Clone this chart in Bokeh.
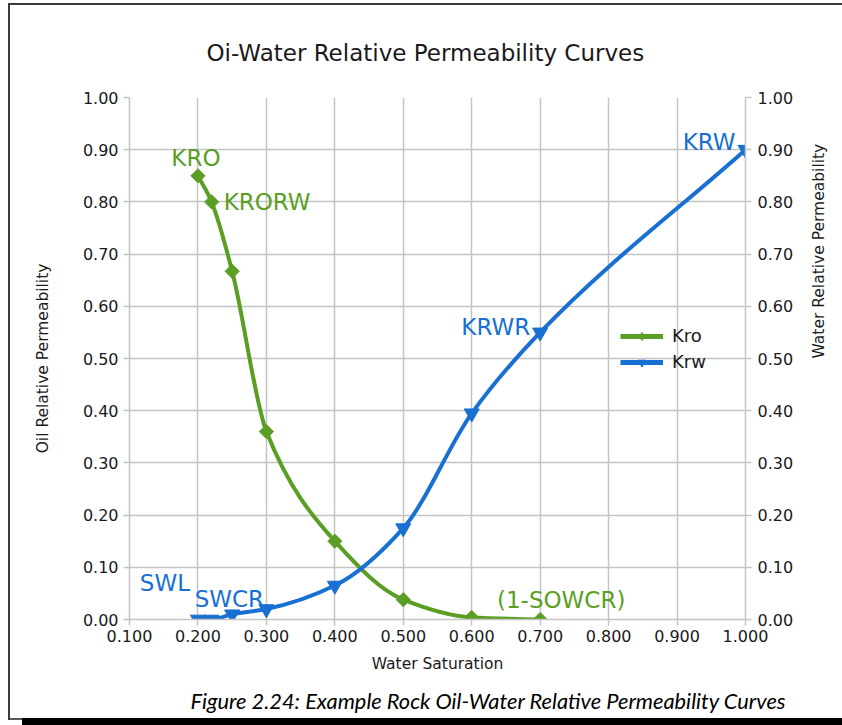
import numpy as np
from bokeh.plotting import figure
from bokeh.models import (Range1d, LinearAxis, FixedTicker, PrintfTickFormatter, Label,
                          Legend, LegendItem, ColumnDataSource, Title)
from bokeh.embed import file_html
from bokeh.resources import INLINE

# ---- data -------------------------------------------------------------
sw_oil = [0.20, 0.22, 0.25, 0.30, 0.40, 0.50, 0.60, 0.70]
kro = [0.85, 0.80, 0.667, 0.36, 0.15, 0.038, 0.004, 0.0]

sw_water = [0.20, 0.22, 0.25, 0.30, 0.40, 0.50, 0.60, 0.70, 1.00]
krw = [0.0, 0.0, 0.01, 0.02, 0.065, 0.175, 0.395, 0.55, 0.90]

x_ticks = [0.1, 0.2, 0.3, 0.4, 0.5, 0.6, 0.7, 0.8, 0.9, 1.0]
y_ticks = [0.0, 0.1, 0.2, 0.3, 0.4, 0.5, 0.6, 0.7, 0.8, 0.9, 1.0]

# endpoint names: (text, point index)
kro_names = [("KRO", 0), ("KRORW", 1), ("(1-SOWCR)", 7)]
krw_names = [("SWL", 0), ("SWCR", 1), ("KRWR", 7), ("KRW", 8)]

GREEN = "#5a9f24"
BLUE = "#1870d2"
GRID = "#c4c4c4"
FONT = "DejaVu Sans"

# canvas and plot-frame geometry (pixels)
PW, PH = 842, 725
FL, FR, FT, FB = 129, 745, 97, 619
XMIN, XMAX, YMIN, YMAX = 0.1, 1.0, 0.0, 1.0


def smooth_segments(xs, ys):
    """Monotone cubic (Fritsch-Carlson) segments expressed as Bezier curves."""
    xs = np.asarray(xs, float)
    ys = np.asarray(ys, float)
    h = np.diff(xs)
    d = np.diff(ys) / h
    n = len(xs)
    m = np.zeros(n)
    m[0], m[-1] = d[0], d[-1]
    for i in range(1, n - 1):
        if d[i - 1] * d[i] <= 0:
            m[i] = 0.0
        else:
            w1 = 2 * h[i] + h[i - 1]
            w2 = h[i] + 2 * h[i - 1]
            m[i] = (w1 + w2) / (w1 / d[i - 1] + w2 / d[i])
    return dict(
        x0=xs[:-1], y0=ys[:-1], x1=xs[1:], y1=ys[1:],
        cx0=xs[:-1] + h / 3, cy0=ys[:-1] + m[:-1] * h / 3,
        cx1=xs[1:] - h / 3, cy1=ys[1:] - m[1:] * h / 3,
    )


p = figure(width=PW, height=PH,
           x_range=Range1d(XMIN, XMAX), y_range=Range1d(YMIN, YMAX),
           output_backend="svg", toolbar_location=None,
           min_border_left=FL, min_border_right=PW - FR,
           min_border_top=FT, min_border_bottom=PH - FB,
           background_fill_color="white", border_fill_color=None,
           outline_line_color=None)
p.extra_y_ranges = {"right": Range1d(YMIN, YMAX)}


# page frame (left and top rules, bottom rule, dark shadow bar) painted
# behind the transparent canvas border
def rule(color, x, y, w, h):
    return f"linear-gradient({color},{color}) {x}px {y}px / {w}px {h}px no-repeat"


p.styles = {
    "position": "fixed",
    "top": "0px",
    "left": "0px",
    "background": ", ".join([
        rule("#3a3a3a", 8, 3, 2, 717),
        rule("#3a3a3a", 8, 3, 834, 2),
        rule("#5a5a5a", 8, 718, 14, 2),
        rule("#000000", 22, 718, 820, 7),
        "#ffffff",
    ]),
}

# ---- title and caption ------------------------------------------------
p.title = Title(text="Oi-Water Relative Permeability Curves", align="left", offset=77,
                text_font=FONT, text_font_size="23px", text_font_style="normal",
                text_color="#1a1a1a", standoff=63)
p.add_layout(Title(text="Figure 2.24: Example Rock Oil-Water Relative Permeability Curves",
                   align="left", offset=61, text_font="Lato", text_font_style="italic",
                   text_font_size="21.8px", text_color="black", standoff=18), "below")

# ---- axes -------------------------------------------------------------
xa = p.xaxis[0]
ya = p.yaxis[0]
xa.ticker = FixedTicker(ticks=x_ticks)
xa.formatter = PrintfTickFormatter(format="%.3f")
xa.axis_label = "Water Saturation"
ya.ticker = FixedTicker(ticks=y_ticks)
ya.formatter = PrintfTickFormatter(format="%.2f")
ya.axis_label = "Oil Relative Permeability"

ra = LinearAxis(y_range_name="right", ticker=FixedTicker(ticks=y_ticks),
                formatter=PrintfTickFormatter(format="%.2f"),
                axis_label="Water Relative Permeability")
p.add_layout(ra, "right")
if "axis_label_orientation" in ra.properties():
    ra.axis_label_orientation = np.pi / 2

for ax in (xa, ya, ra):
    ax.axis_line_color = GRID
    ax.axis_line_width = 1.5
    ax.major_tick_line_color = GRID
    ax.major_tick_line_width = 1.5
    ax.major_tick_out = 6
    ax.major_tick_in = 0
    ax.minor_tick_line_color = None
    ax.major_label_text_font = FONT
    ax.major_label_text_font_size = "16px"
    ax.major_label_text_color = "#1a1a1a"
    ax.axis_label_text_font = FONT
    ax.axis_label_text_font_size = "15.5px"
    ax.axis_label_text_font_style = "normal"
    ax.axis_label_text_color = "#1a1a1a"

xa.major_label_standoff = 4
xa.axis_label_standoff = 10
ya.major_label_standoff = 5
ya.axis_label_standoff = 28
ra.major_label_standoff = 6
ra.axis_label_standoff = 23

p.xgrid.ticker = FixedTicker(ticks=x_ticks)
p.ygrid.ticker = FixedTicker(ticks=y_ticks)
for g in (p.xgrid[0], p.ygrid[0]):
    g.grid_line_color = GRID
    g.grid_line_width = 1.5

# ---- curves -----------------------------------------------------------
p.bezier(source=ColumnDataSource(smooth_segments(sw_oil, kro)),
         x0="x0", y0="y0", x1="x1", y1="y1", cx0="cx0", cy0="cy0", cx1="cx1", cy1="cy1",
         line_color=GREEN, line_width=4)
p.bezier(source=ColumnDataSource(smooth_segments(sw_water, krw)),
         x0="x0", y0="y0", x1="x1", y1="y1", cx0="cx0", cy0="cy0", cx1="cx1", cy1="cy1",
         line_color=BLUE, line_width=4)

p.scatter(sw_oil, kro, marker="square", angle=np.pi / 4, size=10,
          fill_color=GREEN, line_color=GREEN)
p.scatter(sw_water, krw, marker="inverted_triangle", size=15,
          fill_color=BLUE, line_color=BLUE)

# legend swatches: a line with a marker on it
nan = [float("nan")]
kro_key_line = p.line(x=nan, y=nan, line_color=GREEN, line_width=5)
kro_key_mark = p.scatter(x=nan, y=nan, marker="diamond", size=14,
                         fill_color=GREEN, line_color=GREEN)
krw_key_line = p.line(x=nan, y=nan, line_color=BLUE, line_width=5)
krw_key_mark = p.scatter(x=nan, y=nan, marker="inverted_triangle", size=13,
                         fill_color=BLUE, line_color=BLUE)

legend = Legend(items=[LegendItem(label="Kro", renderers=[kro_key_line, kro_key_mark]),
                       LegendItem(label="Krw", renderers=[krw_key_line, krw_key_mark])],
                location=(491, 247), orientation="vertical",
                padding=0, margin=0, spacing=5,
                glyph_width=43, glyph_height=20, label_height=20,
                label_standoff=9, label_text_font=FONT, label_text_font_size="18px",
                label_text_color="#1a1a1a",
                background_fill_alpha=0, border_line_color=None)
p.add_layout(legend, "center")

# ---- endpoint names ---------------------------------------------------
kro_offsets = {"KRO": (-2, 18, "center"), "KRORW": (12, 0, "left"),
               "(1-SOWCR)": (21, 20, "center")}
krw_offsets = {"SWL": (-8, 37, "right"), "SWCR": (-17, 21, "left"),
               "KRWR": (-10, 5, "right"), "KRW": (-10, 8, "right")}

for names, xs, ys, offs, col in ((kro_names, sw_oil, kro, kro_offsets, GREEN),
                                 (krw_names, sw_water, krw, krw_offsets, BLUE)):
    for text, i in names:
        dx, dy, align = offs[text]
        p.add_layout(Label(x=xs[i], y=ys[i], x_offset=dx, y_offset=dy, text=text,
                           text_align=align, text_baseline="middle",
                           text_font=FONT, text_font_size="23px", text_color=col))

open("out.html", "w").write(file_html(p, INLINE))
